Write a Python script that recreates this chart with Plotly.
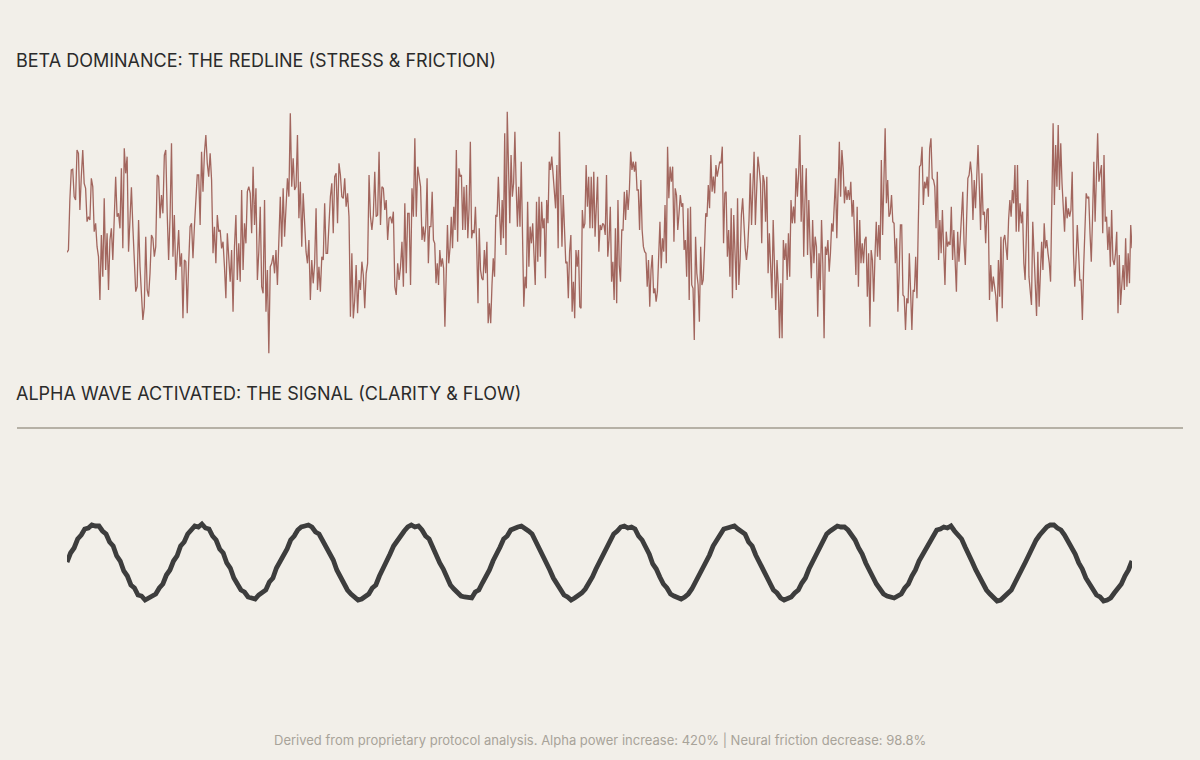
import plotly.graph_objects as go

# ---- data ----
# Beta trace, three consecutive 1-second epochs (each evenly sampled)
beta_epoch1 = [
 -57,-50,100,190,192,110,100,250,240,70,170,250,150,135,35,50,40,165,140,5,30,-40,-70,-200,-5,-130,105,-110,0,-170,
 -20,15,-80,20,170,50,60,15,195,-45,255,180,230,-55,40,138,20,-100,-175,-160,40,-100,-200,-260,-220,-10,-170,-190,-120,-5,
 -15,-70,-40,175,170,45,115,60,235,250,60,-80,50,270,-70,55,-140,-70,10,-100,-60,-255,-80,-85,-240,-90,20,30,-75,20,
 100,175,175,25,245,125,240,295,210,170,240,160,-60,20,-90,55,5,10,-45,-25,-100,-195,0,-90,-145,-50,-235,-40,55,-140,
 -30,-145,130,-110,30,-30,125,140,120,0,200,25,135,-140,-55,80,-160,-180,100,-235,-110,-360,-100,-90,-65,-120,-50,-155,-50,110,
 -40,135,-10,80,165,110,360,140,225,130,140,295,45,155,-40,120,20,-55,-90,-20,-200,-80,-150,-90,75,-170,-100,-175,-70,-80,
 90,-60,-60,55,110,150,0,170,180,30,210,175,110,105,165,80,120,50,-250,-60,-255,-200,-95,-240,-140,-170,-85,-125,-225,-120,
 -90,175,50,10,55,185,50,55,245,25,140,135,70,100,-20,45,50,30,65,-160,-185,-90,-140,-100,-25,-160,90,-120,60,60,
 -155,135,50,285,50,200,170,140,
]
beta_epoch2 = [
 -20,20,-25,25,165,-90,20,20,125,-20,-30,-150,-90,-155,-50,-100,-75,-105,-280,-145,25,-90,-45,50,-45,80,10,250,-25,195,
 170,175,10,140,10,145,-15,75,275,-15,10,0,80,-40,-210,15,-110,-135,-140,-50,-120,-25,-270,-210,-270,-155,-75,-130,55,50,
 170,60,-35,100,-15,300,-65,365,190,30,235,110,150,305,140,20,140,20,215,20,-220,-130,-165,95,-100,20,-30,30,-65,-155,
 95,-85,110,-70,95,15,45,-135,100,30,215,190,230,180,125,75,205,-45,305,160,-40,115,-20,-90,-85,-195,-55,-5,-235,-145,
 -255,-50,-100,-50,-220,-225,70,15,30,205,80,170,15,170,15,185,-10,65,170,-55,25,10,30,25,-5,175,-70,-20,80,-145,
 -85,-200,15,-210,100,-95,-145,10,10,125,40,130,70,130,245,190,215,185,215,130,130,10,160,10,-40,-55,-60,-160,-80,-220,
 -110,-65,-180,-165,-205,-175,-90,35,-105,-15,-55,85,-90,260,105,200,155,200,-25,135,115,10,60,115,80,90,-50,-20,-130,75,
 -200,80,-155,-165,-320,-10,-120,-155,-265,-40,-155,-140,-50,60,50,145,75,235,125,170,120,205,170,200,215,210,260,-30,120,125,
 -70,10,-130,75,-195,55,-70,-170,105,-155,-80,55,105,5,-45,-80,-40,40,180,25,145,245,25,160,230,195,150,-30,175,155,
 35,170,-120,0,-90,-195,40,-140,-230,
]
beta_epoch3 = [
 -80,-160,-315,-150,-315,-20,-80,-30,-140,0,-130,100,30,80,30,195,110,180,295,35,205,-70,100,195,-65,100,-40,-135,40,-90,
 -10,-40,-250,-60,-170,40,-90,-315,-40,-65,-20,-115,-60,30,5,100,165,-15,110,275,110,250,195,90,140,100,130,100,155,50,
 100,0,-125,80,-160,40,-90,-30,-90,-20,-10,-190,-60,-280,-50,-80,-205,-70,35,-70,25,-80,220,-5,120,315,90,160,50,60,
 115,35,30,-90,-15,-235,-120,25,25,-185,-190,-290,-195,-210,-60,-160,-290,-170,-175,-70,-195,20,200,205,260,85,155,135,170,110,
 255,285,165,160,140,15,185,-80,40,-60,70,-50,-155,5,-40,-25,-35,80,-80,10,-80,-175,5,-85,-20,60,125,-30,-95,40,
 165,175,215,175,40,160,75,170,265,140,10,180,55,65,-30,70,75,-200,-95,-175,-130,-160,-190,-265,-80,-190,-10,-225,-20,-5,
 -55,-80,40,100,50,130,90,205,5,205,5,90,30,65,-90,-140,0,160,-130,-185,-215,35,-75,-145,-248,-55,-220,-120,-25,-110,
 30,-45,-20,-60,-90,-145,60,330,85,265,140,325,130,270,150,80,5,110,45,75,50,70,185,-60,-160,-80,25,-55,-140,-140,
 -260,-100,-15,120,105,110,0,-85,50,215,35,160,300,155,185,205,0,235,35,50,-50,20,-100,70,-80,-95,-60,5,-240,-65,
 -215,-130,-95,-170,-15,-160,-60,-150,25,-45,
]

alpha_uv = [
 0,9,14,23,27,33,34,37,36,36,31,28,20,16,6,1,-9,-14,-23,-26,-33,-34,-38,-36,-35,-32,-26,-22,-13,-8,
 1,6,16,20,28,32,36,35,38,34,33,26,22,13,9,-1,-6,-16,-21,-28,-30,-35,-36,-37,-33,-31,-28,-20,-16,-6,
 0,8,13,22,26,32,35,36,37,35,30,28,21,16,7,2,-8,-15,-20,-28,-32,-35,-38,-37,-34,-32,-26,-23,-14,-7,
 -1,8,16,21,28,31,35,37,35,36,32,26,23,14,8,-1,-7,-14,-23,-27,-31,-34,-35,-36,-36,-30,-28,-21,-15,-8,
 1,7,15,23,26,32,34,35,36,34,31,28,21,15,6,1,-8,-16,-21,-27,-33,-35,-38,-36,-34,-31,-27,-22,-15,-7,
 0,9,14,21,28,31,35,36,34,35,33,26,22,15,8,-2,-7,-15,-22,-26,-32,-34,-36,-37,-35,-32,-27,-20,-14,-8,
 1,7,16,21,27,33,34,35,36,33,31,28,20,16,7,0,-9,-14,-21,-28,-31,-36,-38,-37,-35,-31,-28,-21,-16,-7,
 0,8,14,22,28,31,34,36,35,35,32,27,22,14,8,-1,-7,-15,-22,-27,-32,-34,-35,-36,-34,-32,-26,-22,-14,-8,
 1,7,15,21,27,32,33,35,34,36,31,26,23,15,6,0,-8,-15,-21,-28,-32,-35,-39,-38,-35,-31,-28,-21,-15,-7,
 0,8,15,22,27,32,35,37,37,34,32,27,21,14,8,-1,-7,-16,-21,-27,-33,-35,-39,-38,-36,-31,-27,-22,-14,-8,
 1,
]

beta_title = "BETA DOMINANCE: THE REDLINE (STRESS & FRICTION)"
alpha_title = "ALPHA WAVE ACTIVATED: THE SIGNAL (CLARITY & FLOW)"
footer_text = "Derived from proprietary protocol analysis. Alpha power increase: 420% | Neural friction decrease: 98.8%"

# time axis (seconds) for beta: each epoch spans one second, evenly sampled
beta_t, beta_v = [], []
epochs = [beta_epoch1, beta_epoch2, beta_epoch3]
for e, ep in enumerate(epochs):
    n = len(ep)
    last = (e == len(epochs) - 1)
    for i, v in enumerate(ep):
        beta_t.append(e + i / (n - 1 if last else n))
        beta_v.append(v)

BG = "#f2efe9"
FONT = "Inter"

fig = go.Figure()
fig.add_trace(go.Scatter(
    x=beta_t, y=beta_v, mode="lines",
    line=dict(color="#a2665e", width=1.3), xaxis="x", yaxis="y",
    hoverinfo="skip", showlegend=False))
fig.add_trace(go.Scatter(
    x=list(range(len(alpha_uv))), y=alpha_uv, mode="lines",
    line=dict(color="#3d3d3d", width=4.8), xaxis="x2", yaxis="y2",
    hoverinfo="skip", showlegend=False))

xdom = [67 / 1200, 1132 / 1200]
hidden = dict(visible=False, showgrid=False, zeroline=False, fixedrange=True)

fig.update_layout(
    width=1200, height=760, margin=dict(l=0, r=0, t=0, b=0),
    paper_bgcolor=BG, plot_bgcolor=BG,
    xaxis=dict(domain=xdom, range=[0, max(beta_t)], anchor="y", **hidden),
    yaxis=dict(domain=[1 - 380 / 760, 1 - 80 / 760], range=[-440, 460], anchor="x", **hidden),
    xaxis2=dict(domain=xdom, range=[0, len(alpha_uv) - 1], anchor="y2", **hidden),
    yaxis2=dict(domain=[1 - 700 / 760, 1 - 450 / 760], range=[-138, 112], anchor="x2", **hidden),
    showlegend=False,
    annotations=[
        dict(text=beta_title, xref="paper", yref="paper", x=14 / 1200, y=1 - 60 / 760,
             xanchor="left", yanchor="middle", showarrow=False,
             font=dict(family=FONT, size=18, color="#2b2b2b")),
        dict(text=alpha_title, xref="paper", yref="paper", x=14 / 1200, y=1 - 394 / 760,
             xanchor="left", yanchor="middle", showarrow=False,
             font=dict(family=FONT, size=18, color="#2b2b2b")),
        dict(text=footer_text, xref="paper", yref="paper", x=0.5, y=1 - 740 / 760,
             xanchor="center", yanchor="middle", showarrow=False,
             font=dict(family=FONT, size=13, color="#a8a399")),
    ],
    shapes=[
        dict(type="line", xref="paper", yref="paper", x0=17 / 1200, x1=1183 / 1200,
             y0=1 - 428 / 760, y1=1 - 428 / 760, line=dict(color="#b6b1a6", width=1.8)),
    ],
)

fig.write_html("out.html", config={"displayModeBar": False})
